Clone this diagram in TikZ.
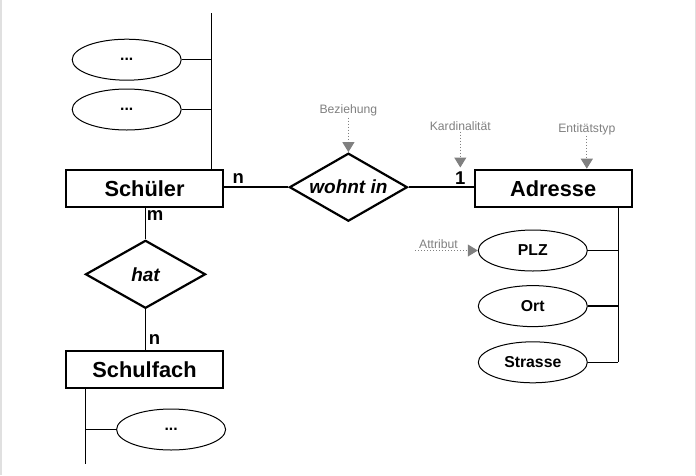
\documentclass[tikz,border=0pt]{standalone}
\usepackage{fontspec}
\setmainfont{Liberation Sans}
\usetikzlibrary{shapes.geometric,arrows.meta}
\definecolor{notegray}{gray}{0.5}
\definecolor{framegray}{gray}{0.88}
\tikzset{
  entity/.style={draw, line width=2.4pt, minimum width=157pt, minimum height=37pt, inner sep=0pt, font=\fontsize{21.8}{24}\selectfont\bfseries},
  rel/.style={draw, diamond, aspect=1.75, line width=2.2pt, inner sep=0pt, minimum width=119pt, minimum height=68pt, font=\fontsize{19}{22}\selectfont\bfseries\itshape},
  attr/.style={draw, ellipse, line width=1pt, inner sep=0pt, minimum width=109pt, minimum height=41pt, font=\fontsize{15.8}{18}\selectfont\bfseries},
  card/.style={inner sep=0pt, font=\fontsize{18.5}{20}\selectfont\bfseries},
  thin/.style={line width=1.3pt},
  thick/.style={line width=2.4pt},
  note/.style={inner sep=1pt, text=notegray, font=\fontsize{12.2}{14}\selectfont},
  notearrow/.style={draw=notegray, line width=1pt, dotted, -{Triangle[length=10pt,width=12pt,fill=notegray]}},
}
\begin{document}
\begin{tikzpicture}[x=1pt,y=-1pt]
\useasboundingbox (0,0) rectangle (696,475);
\draw[framegray, line width=1.5pt] (0.75,0) -- (0.75,475);
\draw[framegray, line width=1.5pt] (695.25,0) -- (695.25,475);

% entities
\node[entity] (schueler) at (144.5,188.5) {Schüler};
\node[entity] (adresse) at (553.2,188.4) {Adresse};
\node[entity] (schulfach) at (144.5,369.5) {Schulfach};

% relationships
\node[rel, minimum width=118pt] (wohnt) at (348.4,187.2) {wohnt in};
\node[rel, minimum width=120pt] (hat) at (145.5,274.3) {hat};

% attributes
\node[attr] (a1) at (126.7,59.7) {...};
\node[attr] (a2) at (126.7,109.5) {...};
\node[attr] (plz) at (532.8,250.5) {PLZ};
\node[attr] (ort) at (532.8,306.1) {Ort};
\node[attr] (str) at (532.8,362.3) {Strasse};
\node[attr] (a4) at (171.1,429.5) {...};

% attribute trunks
\coordinate (ts) at (211.3,13.3);
\coordinate (rb) at (618.3,362.3);
\coordinate (lb) at (85.7,464);
\draw[thin] (ts) -- (ts |- schueler.north);
\draw[thin] (a1.east) -- (a1.east -| ts);
\draw[thin] (a2.east) -- (a2.east -| ts);
\draw[thin] (adresse.south -| rb) -- (rb);
\draw[thin] (plz.east) -- (plz.east -| rb);
\draw[thin] (ort.east) -- (ort.east -| rb);
\draw[thin] (str.east) -- (str.east -| rb);
\draw[thin] (schulfach.south -| lb) -- (lb);
\draw[thin] (a4.west) -- (a4.west -| lb);

% relationship connectors
\draw[thick] (schueler.east |- wohnt.west) -- (wohnt.west);
\draw[thick] (wohnt.east) -- (adresse.west |- wohnt.east);
\draw[thin] (hat.north |- schueler.south) -- (hat.north);
\draw[thin] (hat.south) -- (hat.south |- schulfach.north);

% cardinalities
\node[card] (c1) at (238.3,178.5) {n};
\node[card] (c2) at (460.3,178.3) {1};
\node[card] (c3) at (155,215.5) {m};
\node[card] (c4) at (154.5,339.5) {n};

% notes
\node[note] (bez) at (348.4,110.7) {Beziehung};
\node[note] (kard) at (460.3,126) {Kardinalität};
\node[note] (ent) at (586.8,129) {Entitätstyp};
\node[note] (att) at (438.5,244.5) {Attribut};
\coordinate (kt) at (460.3,167.5);
\coordinate (attr0) at (415,250.5);
\draw[notearrow] (bez.south) -- (wohnt.north);
\draw[notearrow] (kard.south) -- (kt);
\draw[notearrow] (ent.south) -- (ent.south |- adresse.north);
\draw[notearrow] (attr0) -- (plz.west);
\end{tikzpicture}
\end{document}
